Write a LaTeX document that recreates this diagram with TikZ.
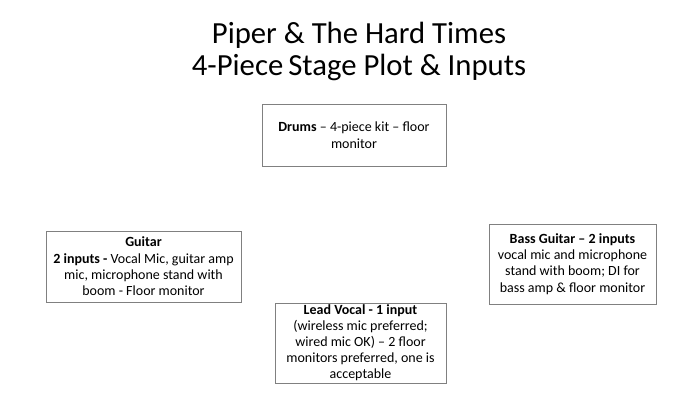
\documentclass[tikz,border=0pt]{standalone}
\usepackage{fontspec}
\setmainfont{Carlito}
\begin{document}
\begin{tikzpicture}[x=1pt, y=1pt,
                    stagebox/.style={draw=black!50, line width=0.9pt, align=center,
                      inner sep=0pt, font=\fontsize{14}{16.4}\selectfont}]
                \useasboundingbox (0,0) rectangle (700,409);
                \node (title) [align=center, font=\fontsize{30.7}{32}\selectfont] at (359,358)
                    {Piper \& The Hard Times\\4-Piece\,Stage Plot \& Inputs};

                \node (drums) [stagebox, minimum width=184, minimum height=62] at (354,274)
                    {\textbf{Drums} -- 4-piece kit -- floor\\monitor};
                \node (guitar) [stagebox, minimum width=195, minimum height=71] at (143.5,142.5)
                    {\textbf{Guitar}\\\textbf{2 inputs -} Vocal Mic, guitar amp\\mic, microphone stand with\\boom - Floor monitor};
                \node (lead) [stagebox, minimum width=171, minimum height=80,
                              font=\fontsize{14}{16}\selectfont] at (360.5,66)
                    {\textbf{Lead Vocal - 1 input}\\(wireless mic preferred;\\wired mic OK) -- 2 floor\\monitors preferred, one is\\acceptable};
                \node (bass) [stagebox, minimum width=167, minimum height=80] at (572.5,145)
                    {\textbf{Bass Guitar -- 2 inputs}\\vocal mic and microphone\\stand with boom; DI for\\bass amp \& floor monitor};
            \end{tikzpicture}
\end{document}
